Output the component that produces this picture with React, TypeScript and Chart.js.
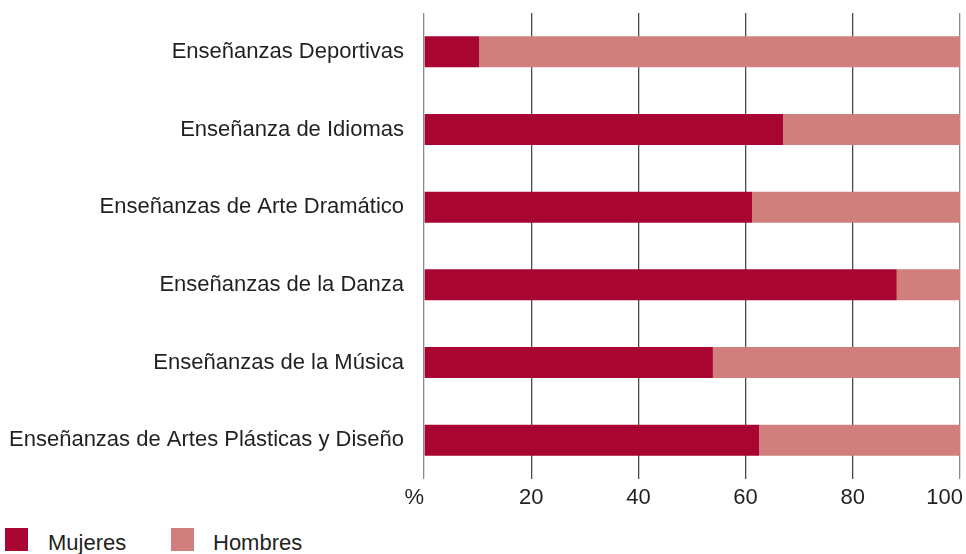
import React, { useEffect, useRef } from "react";
import { Chart, registerables } from "chart.js";

Chart.register(...registerables);

const CATEGORIES = [
  "Enseñanzas Deportivas",
  "Enseñanza de Idiomas",
  "Enseñanzas de Arte Dramático",
  "Enseñanzas de la Danza",
  "Enseñanzas de la Música",
  "Enseñanzas de Artes Plásticas y Diseño",
];
const MUJERES = [10.3, 67.0, 61.2, 88.2, 53.9, 62.5];
const HOMBRES = [89.7, 33.0, 38.8, 11.8, 46.1, 37.5];
const X_TICKS = [0, 20, 40, 60, 80, 100];
const X_TICK_LABELS = ["%", "20", "40", "60", "80", "100"];
const SERIES_NAMES = ["Mujeres", "Hombres"];
const COLORS = ["#a80532", "#d17f7c"];

const FONT = '"Liberation Sans", Arial, Helvetica, sans-serif';
const TEXT = "#231f20";

const xLabelsPlugin = {
  id: "xLabels",
  afterDraw(chart: any) {
    const xs = chart.scales.x;
    const ctx = chart.ctx;
    ctx.save();
    ctx.font = `22px ${FONT}`;
    ctx.fillStyle = TEXT;
    ctx.textBaseline = "middle";
    X_TICKS.forEach((v, i) => {
      const px = xs.getPixelForValue(v);
      if (i === 0) {
        ctx.textAlign = "right";
        ctx.fillText(X_TICK_LABELS[i], px, 498);
      } else if (i === X_TICKS.length - 1) {
        ctx.textAlign = "right";
        ctx.fillText(X_TICK_LABELS[i], px + 3, 498);
      } else {
        ctx.textAlign = "center";
        ctx.fillText(X_TICK_LABELS[i], px, 498);
      }
    });
    ctx.restore();
  },
};

export default function App() {
  const ref = useRef<HTMLCanvasElement>(null);

  useEffect(() => {
    document.body.style.margin = "0";
    const chart = new Chart(ref.current as HTMLCanvasElement, {
      type: "bar",
      data: {
        labels: CATEGORIES,
        datasets: [
          {
            label: SERIES_NAMES[0],
            data: MUJERES,
            backgroundColor: COLORS[0],
            borderWidth: 0,
            barPercentage: 0.4,
            categoryPercentage: 1,
          },
          {
            label: SERIES_NAMES[1],
            data: HOMBRES,
            backgroundColor: COLORS[1],
            borderWidth: 0,
            barPercentage: 0.4,
            categoryPercentage: 1,
          },
        ],
      },
      options: {
        indexAxis: "y",
        responsive: false,
        animation: false,
        layout: { padding: { top: 13, right: 6, left: 0, bottom: 0 } },
        plugins: {
          legend: { display: false },
          tooltip: { enabled: false },
        },
        scales: {
          x: {
            stacked: true,
            min: 0,
            max: 100,
            ticks: { display: false, stepSize: 20 },
            grid: {
              drawTicks: false,
              lineWidth: 1.3,
              color: (c: any) =>
                c.tick && (c.tick.value === 0 || c.tick.value === 100)
                  ? "#8c8c8c"
                  : "#4a4a4a",
            },
            border: { display: false },
            afterFit: (s: any) => {
              s.height = 31;
              s.paddingLeft = 0;
              s.paddingRight = 0;
              s.paddingTop = 0;
              s.paddingBottom = 0;
            },
          },
          y: {
            stacked: true,
            grid: { display: false, drawTicks: false },
            border: { display: false },
            ticks: {
              padding: 20,
              color: TEXT,
              font: { family: FONT, size: 22 },
            },
            afterFit: (s: any) => {
              s.width = 424;
              s.paddingTop = 0;
              s.paddingBottom = 0;
              s.paddingLeft = 0;
              s.paddingRight = 0;
            },
          },
        },
      },
      plugins: [xLabelsPlugin],
    });
    return () => chart.destroy();
  }, []);

  const legendItem = (i: number, boxLeft: number, textLeft: number) => (
    <React.Fragment key={i}>
      <div
        style={{
          position: "absolute",
          left: boxLeft,
          top: 528,
          width: 23,
          height: 23,
          background: COLORS[i],
        }}
      />
      <div
        style={{
          position: "absolute",
          left: textLeft,
          top: 531,
          height: 23,
          lineHeight: "23px",
          fontFamily: FONT,
          fontSize: 22,
          color: TEXT,
          whiteSpace: "nowrap",
        }}
      >
        {SERIES_NAMES[i]}
      </div>
    </React.Fragment>
  );

  return (
    <div style={{ position: "relative", width: 966, height: 554, overflow: "hidden", background: "#fff" }}>
      <canvas ref={ref} width={966} height={510} style={{ display: "block" }} />
      {legendItem(0, 5, 48)}
      {legendItem(1, 171, 213)}
    </div>
  );
}
